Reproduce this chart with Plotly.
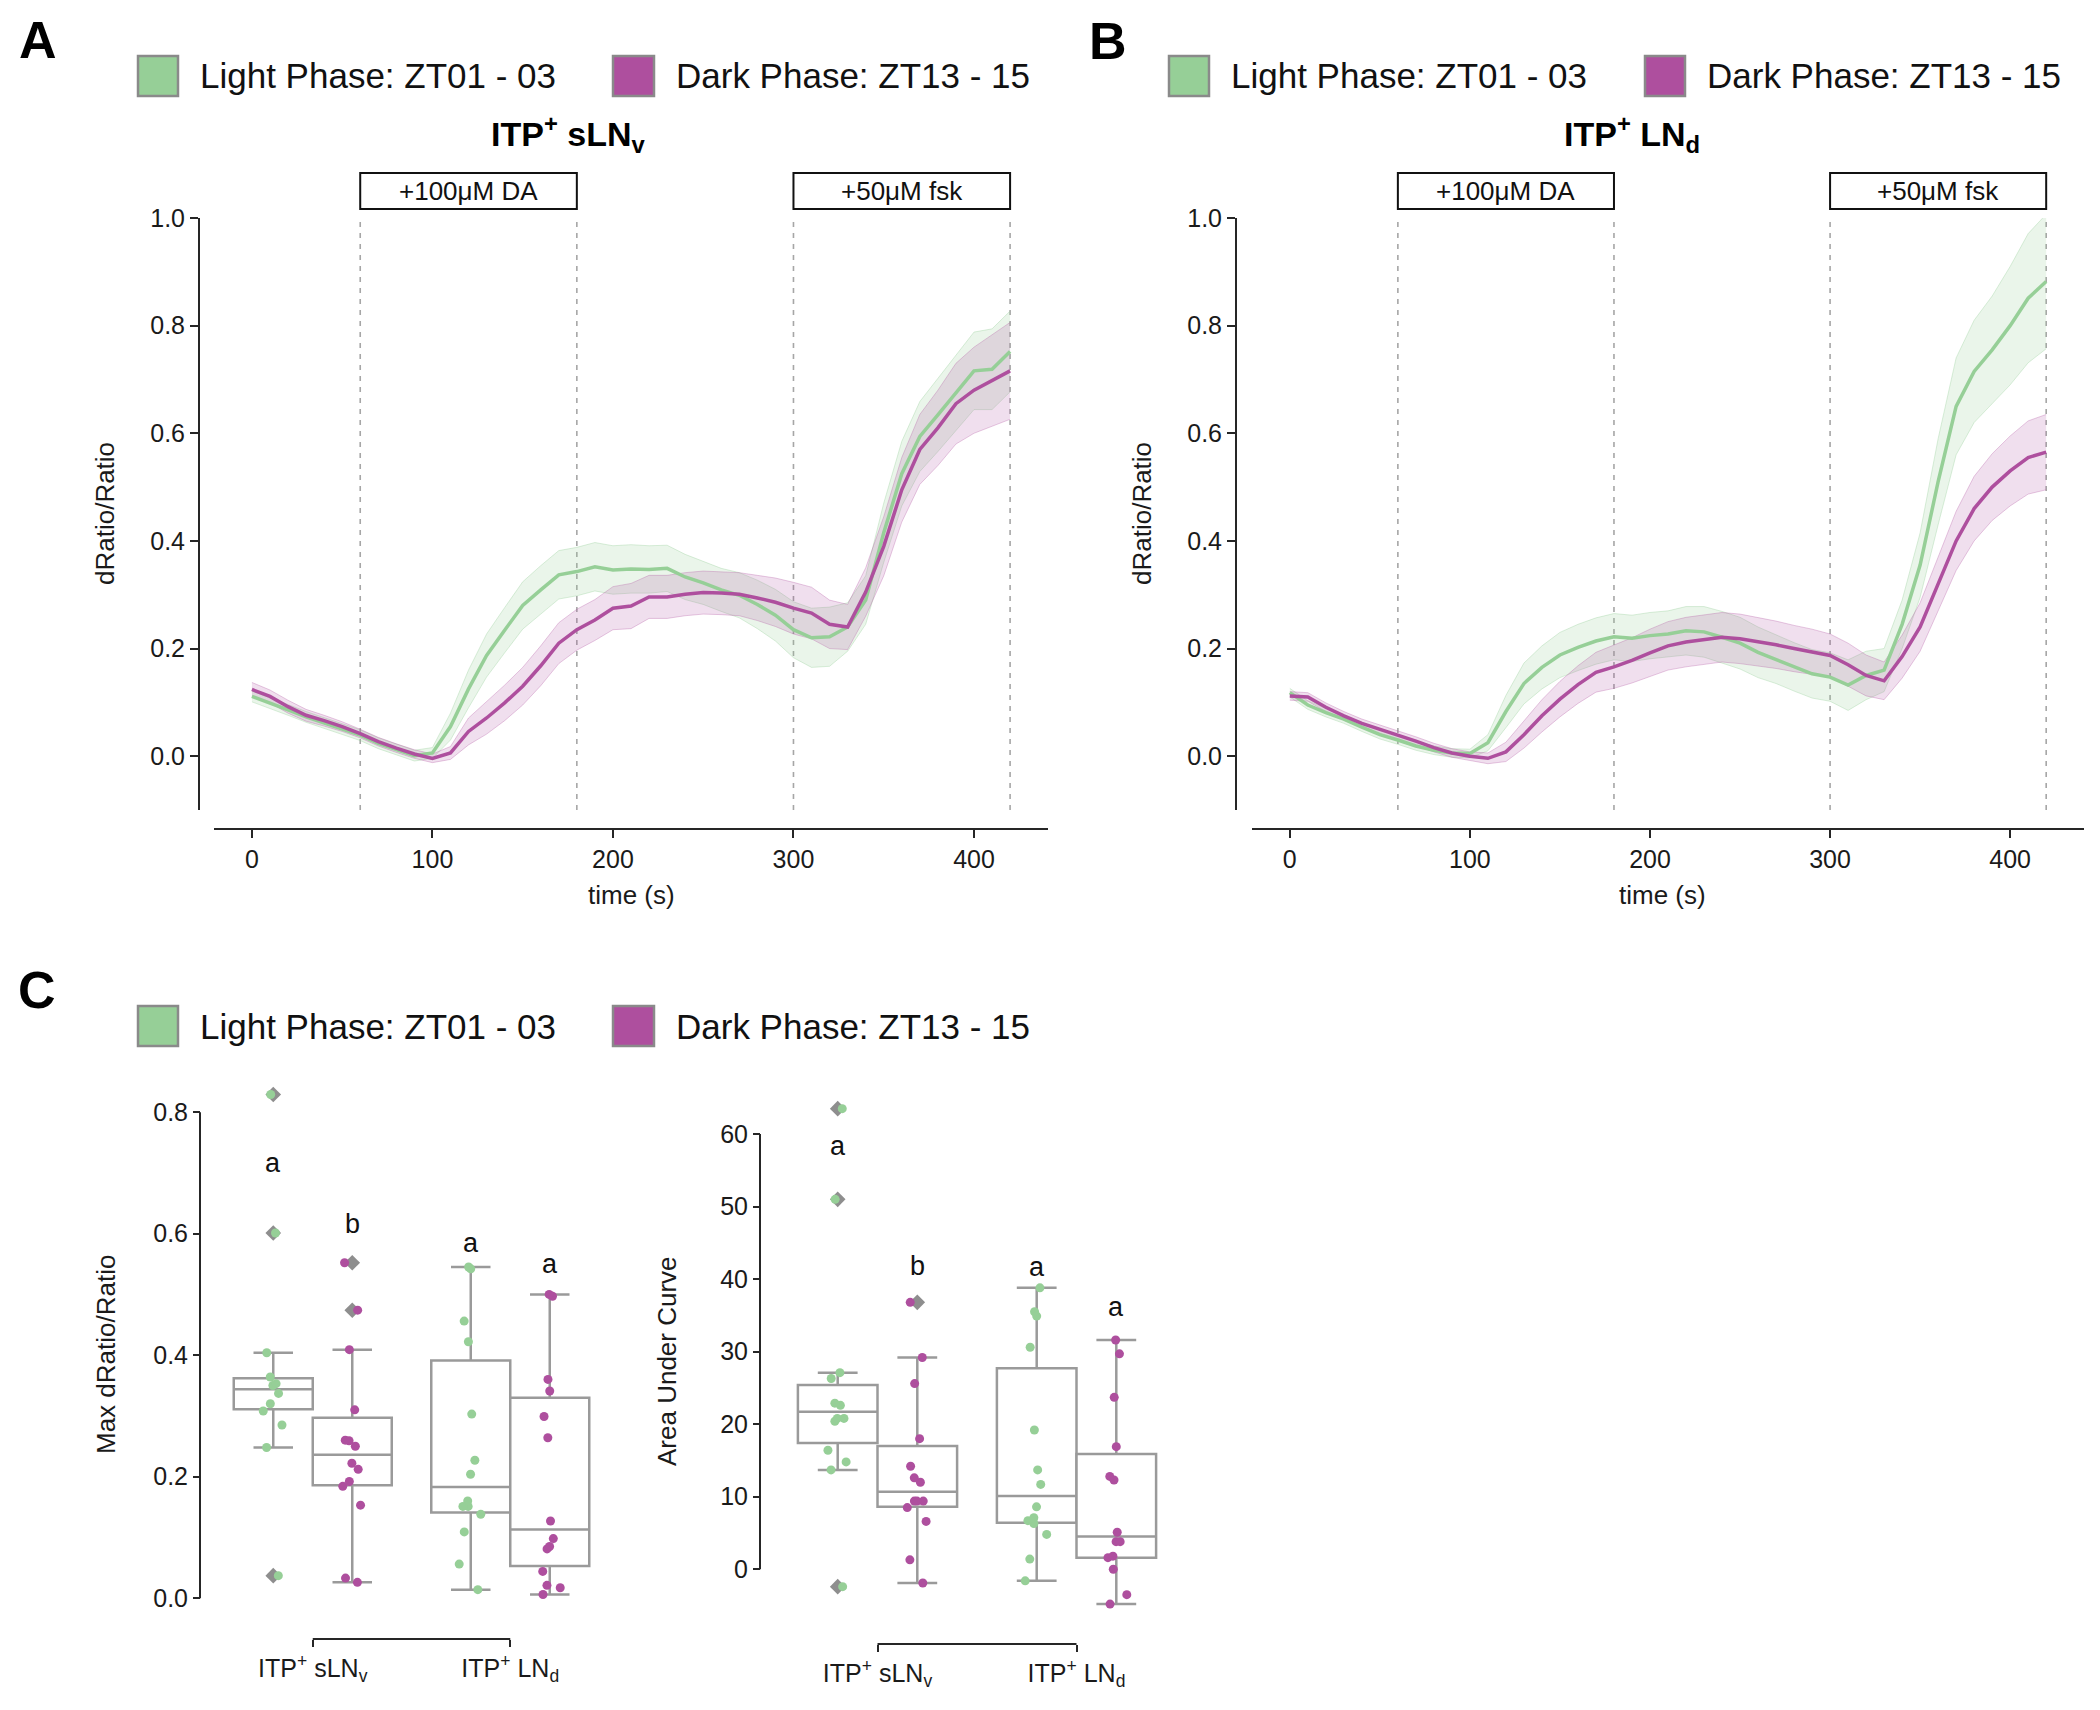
import numpy as np
import plotly.graph_objects as go

# ---------------------------------------------------------------- data
time_s = [0, 10, 20, 30, 40, 50, 60, 70, 80, 90, 100, 110, 120, 130, 140, 150, 160, 170, 180, 190,
          200, 210, 220, 230, 240, 250, 260, 270, 280, 290, 300, 310, 320, 330, 340, 350, 360, 370,
          380, 390, 400, 410, 420]

# Panel A: ITP+ sLNv  (mean and SEM of dRatio/Ratio)
sLNv_light_mean = [0.111, 0.099, 0.086, 0.073, 0.062, 0.050, 0.039, 0.024, 0.012, 0.001,
                   0.006, 0.055, 0.125, 0.187, 0.234, 0.280, 0.309, 0.337, 0.343, 0.352,
                   0.346, 0.348, 0.347, 0.349, 0.333, 0.322, 0.309, 0.299, 0.282, 0.262,
                   0.235, 0.220, 0.222, 0.240, 0.290, 0.415, 0.525, 0.594, 0.634, 0.676,
                   0.716, 0.719, 0.752]
sLNv_light_sem = [0.010, 0.010, 0.010, 0.010, 0.010, 0.010, 0.010, 0.010, 0.010, 0.010,
                  0.010, 0.025, 0.035, 0.040, 0.042, 0.044, 0.045, 0.045, 0.045, 0.045,
                  0.045, 0.045, 0.044, 0.043, 0.042, 0.040, 0.040, 0.042, 0.045, 0.048,
                  0.052, 0.055, 0.055, 0.045, 0.045, 0.055, 0.060, 0.065, 0.068, 0.070,
                  0.072, 0.075, 0.075]
sLNv_dark_mean = [0.124, 0.111, 0.092, 0.076, 0.066, 0.055, 0.042, 0.027, 0.015, 0.004,
                  -0.004, 0.006, 0.046, 0.071, 0.099, 0.130, 0.168, 0.210, 0.235, 0.253,
                  0.275, 0.279, 0.296, 0.296, 0.301, 0.304, 0.303, 0.301, 0.294, 0.286,
                  0.275, 0.266, 0.245, 0.240, 0.305, 0.390, 0.495, 0.570, 0.610, 0.655,
                  0.680, 0.698, 0.716]
sLNv_dark_sem = [0.013, 0.012, 0.012, 0.011, 0.010, 0.009, 0.008, 0.008, 0.008, 0.008,
                 0.008, 0.012, 0.025, 0.030, 0.033, 0.035, 0.037, 0.038, 0.038, 0.038,
                 0.040, 0.042, 0.040, 0.040, 0.040, 0.040, 0.040, 0.040, 0.042, 0.045,
                 0.048, 0.048, 0.045, 0.042, 0.045, 0.055, 0.060, 0.065, 0.070, 0.075,
                 0.080, 0.085, 0.090]

# Panel B: ITP+ LNd
LNd_light_mean = [0.118, 0.095, 0.081, 0.069, 0.054, 0.040, 0.030, 0.019, 0.011, 0.006,
                  0.005, 0.025, 0.083, 0.135, 0.165, 0.188, 0.202, 0.214, 0.222, 0.219,
                  0.224, 0.227, 0.233, 0.231, 0.221, 0.210, 0.193, 0.180, 0.166, 0.153,
                  0.147, 0.132, 0.150, 0.160, 0.245, 0.355, 0.510, 0.650, 0.715, 0.755,
                  0.800, 0.851, 0.882]
LNd_light_sem = [0.008, 0.008, 0.008, 0.008, 0.008, 0.008, 0.008, 0.008, 0.008, 0.008,
                 0.008, 0.015, 0.030, 0.038, 0.040, 0.042, 0.043, 0.043, 0.043, 0.043,
                 0.043, 0.043, 0.045, 0.047, 0.048, 0.048, 0.047, 0.045, 0.045, 0.045,
                 0.045, 0.047, 0.045, 0.040, 0.045, 0.060, 0.080, 0.090, 0.095, 0.100,
                 0.110, 0.120, 0.125]
LNd_dark_mean = [0.112, 0.110, 0.091, 0.075, 0.061, 0.050, 0.040, 0.028, 0.016, 0.006,
                 0.000, -0.004, 0.008, 0.040, 0.075, 0.106, 0.133, 0.156, 0.166, 0.178,
                 0.192, 0.205, 0.212, 0.217, 0.221, 0.218, 0.213, 0.207, 0.200, 0.194,
                 0.187, 0.170, 0.150, 0.140, 0.185, 0.240, 0.320, 0.400, 0.460, 0.500,
                 0.530, 0.555, 0.565]
LNd_dark_sem = [0.008, 0.008, 0.008, 0.008, 0.008, 0.008, 0.008, 0.008, 0.008, 0.008,
                0.008, 0.010, 0.018, 0.025, 0.030, 0.033, 0.035, 0.037, 0.040, 0.042,
                0.044, 0.045, 0.046, 0.046, 0.046, 0.046, 0.045, 0.044, 0.043, 0.042,
                0.040, 0.040, 0.038, 0.035, 0.040, 0.045, 0.050, 0.055, 0.060, 0.062,
                0.065, 0.068, 0.070]

stim_labels = ["+100μM DA", "+50μM fsk"]
stim_start = [60, 300]
stim_end = [180, 420]

# Panel C
cell_types = ["ITP<sup>+</sup> sLN<sub>v</sub>", "ITP<sup>+</sup> LN<sub>d</sub>"]
phase_labels = ["Light Phase: ZT01 - 03", "Dark Phase: ZT13 - 15"]

max_sLNv_light = [0.829, 0.601, 0.404, 0.364, 0.353, 0.350, 0.337, 0.320, 0.308, 0.285, 0.248, 0.037]
max_sLNv_dark = [0.552, 0.474, 0.409, 0.310, 0.260, 0.259, 0.250, 0.222, 0.212, 0.192, 0.184, 0.153, 0.033, 0.026]
max_LNd_light = [0.545, 0.542, 0.456, 0.422, 0.303, 0.227, 0.204, 0.160, 0.151, 0.151, 0.138, 0.109, 0.056, 0.014]
max_LNd_dark = [0.500, 0.497, 0.360, 0.341, 0.299, 0.264, 0.127, 0.098, 0.085, 0.081, 0.044, 0.021, 0.017, 0.006]
# box stats per cell type: [sLNv, LNd]
max_light_q1 = [0.311, 0.141]
max_light_med = [0.344, 0.183]
max_light_q3 = [0.362, 0.391]
max_light_lo = [0.248, 0.014]
max_light_hi = [0.404, 0.545]
max_dark_q1 = [0.186, 0.053]
max_dark_med = [0.236, 0.113]
max_dark_q3 = [0.297, 0.330]
max_dark_lo = [0.026, 0.006]
max_dark_hi = [0.409, 0.500]
max_light_fliers = [0.829, 0.601, 0.037]
max_dark_fliers = [0.552, 0.474]
max_letters_light = ["a", "a"]
max_letters_dark = ["b", "a"]
max_letters_light_y = [0.717, 0.584]
max_letters_dark_y = [0.616, 0.550]

auc_sLNv_light = [63.5, 51.0, 27.1, 26.3, 22.9, 22.6, 20.8, 20.8, 20.4, 16.4, 14.8, 13.7, -2.4]
auc_sLNv_dark = [36.8, 29.2, 25.6, 18.0, 14.2, 12.6, 12.0, 9.4, 9.4, 9.4, 8.5, 6.6, 1.3, -1.9]
auc_LNd_light = [38.8, 35.5, 34.9, 30.6, 19.2, 13.7, 11.7, 8.6, 7.1, 6.7, 6.3, 4.8, 1.4, -1.6]
auc_LNd_dark = [31.6, 29.7, 23.7, 16.9, 12.8, 12.3, 5.1, 3.8, 3.8, 1.8, 1.6, 0.0, -3.5, -4.8]
auc_light_q1 = [17.4, 6.4]
auc_light_med = [21.7, 10.1]
auc_light_q3 = [25.4, 27.7]
auc_light_lo = [13.7, -1.6]
auc_light_hi = [27.1, 38.8]
auc_dark_q1 = [8.6, 1.6]
auc_dark_med = [10.7, 4.5]
auc_dark_q3 = [17.0, 15.9]
auc_dark_lo = [-1.9, -4.8]
auc_dark_hi = [29.2, 31.6]
auc_light_fliers = [63.5, 51.0, -2.4]
auc_dark_fliers = [36.8]
auc_letters_light = ["a", "a"]
auc_letters_dark = ["b", "a"]
auc_letters_light_y = [58.4, 41.7]
auc_letters_dark_y = [41.8, 36.1]

# ---------------------------------------------------------------- style
W, H = 2100, 1710
PAGE_OFF = 8  # default body margin of the html page
FONT = "Liberation Sans, Arial, Helvetica, sans-serif"
GREEN = "#96cf97"
MAGENTA = "#ae4f9e"
GREEN_BAND = "rgba(150,207,151,0.20)"
MAG_BAND = "rgba(174,79,158,0.18)"
GREEN_EDGE = "rgba(150,207,151,0.35)"
MAG_EDGE = "rgba(174,79,158,0.30)"
AX = "#262626"
BOX_LINE = "#9a9a9a"
FLIER = "#8e8e8e"


def px(x):
    return (x - PAGE_OFF) / W


def py(y):
    return 1 - (y - PAGE_OFF) / H


fig = go.Figure()

# ---------------------------------------------------------------- time series
panels = [
    ("x", "y", sLNv_light_mean, sLNv_light_sem, sLNv_dark_mean, sLNv_dark_sem),
    ("x2", "y2", LNd_light_mean, LNd_light_sem, LNd_dark_mean, LNd_dark_sem),
]
for xa, ya, lm, ls, dm, ds in panels:
    lm, ls, dm, ds = map(np.array, (lm, ls, dm, ds))
    for m, s, band, edge in ((lm, ls, GREEN_BAND, GREEN_EDGE), (dm, ds, MAG_BAND, MAG_EDGE)):
        fig.add_trace(go.Scatter(x=time_s, y=m + s, mode="lines", line=dict(width=1, color=edge),
                                 xaxis=xa, yaxis=ya, showlegend=False, hoverinfo="skip"))
        fig.add_trace(go.Scatter(x=time_s, y=m - s, mode="lines", line=dict(width=1, color=edge),
                                 fill="tonexty", fillcolor=band,
                                 xaxis=xa, yaxis=ya, showlegend=False, hoverinfo="skip"))
    fig.add_trace(go.Scatter(x=time_s, y=lm, mode="lines", line=dict(width=3.5, color=GREEN),
                             xaxis=xa, yaxis=ya, showlegend=False))
    fig.add_trace(go.Scatter(x=time_s, y=dm, mode="lines", line=dict(width=3.5, color=MAGENTA),
                             xaxis=xa, yaxis=ya, showlegend=False))

# ---------------------------------------------------------------- box plots
cats = [0, 1]
c_panels = [
    ("x3", "y3",
     (max_light_q1, max_light_med, max_light_q3, max_light_lo, max_light_hi),
     (max_dark_q1, max_dark_med, max_dark_q3, max_dark_lo, max_dark_hi),
     (max_sLNv_light, max_LNd_light), (max_sLNv_dark, max_LNd_dark),
     max_light_fliers, max_dark_fliers),
    ("x4", "y4",
     (auc_light_q1, auc_light_med, auc_light_q3, auc_light_lo, auc_light_hi),
     (auc_dark_q1, auc_dark_med, auc_dark_q3, auc_dark_lo, auc_dark_hi),
     (auc_sLNv_light, auc_LNd_light), (auc_sLNv_dark, auc_LNd_dark),
     auc_light_fliers, auc_dark_fliers),
]
for xa, ya, st_l, st_d, pts_l, pts_d, fl_l, fl_d in c_panels:
    for grp, st, pts, fl, col in (("L", st_l, pts_l, fl_l, GREEN), ("D", st_d, pts_d, fl_d, MAGENTA)):
        q1, med, q3, lo, hi = st
        fig.add_trace(go.Box(x=cats, q1=q1, median=med, q3=q3, lowerfence=lo, upperfence=hi,
                             orientation="v", offsetgroup=grp, boxpoints=False,
                             fillcolor="white", line=dict(color=BOX_LINE, width=2.5),
                             whiskerwidth=0.5, xaxis=xa, yaxis=ya, showlegend=False,
                             hoverinfo="skip"))
        fig.add_trace(go.Box(x=[0] * len(fl), y=fl, orientation="v", offsetgroup=grp,
                             boxpoints="all", jitter=0, pointpos=0,
                             fillcolor="rgba(0,0,0,0)", line=dict(color="rgba(0,0,0,0)", width=0),
                             marker=dict(color=FLIER, symbol="diamond", size=12),
                             xaxis=xa, yaxis=ya, showlegend=False, hoverinfo="skip"))
        xs = [0] * len(pts[0]) + [1] * len(pts[1])
        ys = list(pts[0]) + list(pts[1])
        fig.add_trace(go.Box(x=xs, y=ys, orientation="v", offsetgroup=grp,
                             boxpoints="all", jitter=0.3, pointpos=0,
                             fillcolor="rgba(0,0,0,0)", line=dict(color="rgba(0,0,0,0)", width=0),
                             marker=dict(color=col, size=9),
                             xaxis=xa, yaxis=ya, showlegend=False, hoverinfo="skip"))

# ---------------------------------------------------------------- axes
tick_font = dict(family=FONT, size=25, color="#1a1a1a")
ts_x = dict(range=[-21, 441], anchor="free", automargin=False, showline=True, linecolor=AX,
            linewidth=2, ticks="outside", ticklen=8, tickwidth=2, tickcolor=AX,
            tickvals=[0, 100, 200, 300, 400], tickfont=tick_font, showgrid=False, zeroline=False)
ts_y = dict(range=[-0.1, 1.0], anchor="free", automargin=False, showline=True, linecolor=AX,
            linewidth=2, ticks="outside", ticklen=8, tickwidth=2, tickcolor=AX,
            tickvals=[0, 0.2, 0.4, 0.6, 0.8, 1.0], tickformat=".1f",
            tickfont=tick_font, showgrid=False, zeroline=False)
box_font = dict(family=FONT, size=25, color="#1a1a1a")
c_x = dict(range=[-0.5, 1.5], anchor="free", automargin=False, showline=False, ticks="outside",
           ticklen=7, tickwidth=2, tickcolor=AX, tickvals=cats, ticktext=cell_types,
           tickfont=box_font, showgrid=False, zeroline=False)
c_y = dict(anchor="free", automargin=False, showline=False, ticks="outside", ticklen=7,
           tickwidth=2, tickcolor=AX, tickfont=box_font, showgrid=False, zeroline=False)

fig.update_layout(
    xaxis=dict(ts_x, domain=[px(214), px(1048)], position=py(829)),
    yaxis=dict(ts_y, domain=[py(810), py(218)], position=px(199)),
    xaxis2=dict(ts_x, domain=[px(1252), px(2084)], position=py(829)),
    yaxis2=dict(ts_y, domain=[py(810), py(218)], position=px(1236)),
    xaxis3=dict(c_x, domain=[px(214), px(609)], position=py(1639)),
    yaxis3=dict(c_y, domain=[py(1620), py(1069)], position=px(200), range=[-0.036, 0.871],
                tickvals=[0, 0.2, 0.4, 0.6, 0.8], tickformat=".1f"),
    xaxis4=dict(c_x, domain=[px(778), px(1176)], position=py(1644)),
    yaxis4=dict(c_y, domain=[py(1628), py(1084)], position=px(760), range=[-8.1, 66.9],
                tickvals=[0, 10, 20, 30, 40, 50, 60]),
)

shapes = []
annotations = []

# stimulus boxes + dashed lines
for xa in ("x", "x2"):
    for lab, s0, s1 in zip(stim_labels, stim_start, stim_end):
        shapes.append(dict(type="rect", xref=xa, yref="paper", x0=s0, x1=s1, y0=py(209), y1=py(173),
                           line=dict(color="#111", width=2), fillcolor="white"))
        annotations.append(dict(xref=xa, yref="paper", x=(s0 + s1) / 2, y=py(191), text=lab,
                                showarrow=False, xanchor="center", yanchor="middle",
                                font=dict(family=FONT, size=26, color="#111")))
        for xv in (s0, s1):
            shapes.append(dict(type="line", xref=xa, yref=xa.replace("x", "y") + " domain",
                               x0=xv, x1=xv, y0=0, y1=1, layer="below",
                               line=dict(color="#a6a6a6", width=1.6, dash="5px,6px")))

# trimmed spines for panel C
shapes += [
    dict(type="line", xref="paper", yref="y3", x0=px(200), x1=px(200), y0=0, y1=0.8,
         line=dict(color=AX, width=2)),
    dict(type="line", xref="x3", yref="paper", x0=0, x1=1, y0=py(1639), y1=py(1639),
         line=dict(color=AX, width=2)),
    dict(type="line", xref="paper", yref="y4", x0=px(760), x1=px(760), y0=0, y1=60,
         line=dict(color=AX, width=2)),
    dict(type="line", xref="x4", yref="paper", x0=0, x1=1, y0=py(1644), y1=py(1644),
         line=dict(color=AX, width=2)),
]

# legends (drawn as swatches + text)
legend_rows = [
    (76, [(138, 178, 198, GREEN, phase_labels[0]), (613, 654, 674, MAGENTA, phase_labels[1])]),
    (76, [(1169, 1209, 1229, GREEN, phase_labels[0]), (1645, 1685, 1705, MAGENTA, phase_labels[1])]),
    (1026, [(138, 178, 198, GREEN, phase_labels[0]), (613, 654, 674, MAGENTA, phase_labels[1])]),
]
for yc, items in legend_rows:
    for x0, x1, xt, col, lab in items:
        shapes.append(dict(type="rect", xref="paper", yref="paper", x0=px(x0), x1=px(x1),
                           y0=py(yc + 20), y1=py(yc - 20), fillcolor=col,
                           line=dict(color="#8a8a8a", width=2.5)))
        annotations.append(dict(xref="paper", yref="paper", x=px(xt), y=py(yc), text=lab,
                                showarrow=False, xanchor="left", yanchor="middle",
                                font=dict(family=FONT, size=35, color="#111")))

# panel letters
for lab, xc, yc in (("A", 38, 40), ("B", 1108, 41), ("C", 37, 990)):
    annotations.append(dict(xref="paper", yref="paper", x=px(xc), y=py(yc), text="<b>%s</b>" % lab,
                            showarrow=False, xanchor="center", yanchor="middle",
                            font=dict(family=FONT, size=52, color="#000")))

# panel titles
for lab, xc in (("ITP<sup>+</sup> sLN<sub>v</sub>", 568), ("ITP<sup>+</sup> LN<sub>d</sub>", 1632)):
    annotations.append(dict(xref="paper", yref="paper", x=px(xc), y=py(134), text="<b>%s</b>" % lab,
                            showarrow=False, xanchor="center", yanchor="middle",
                            font=dict(family=FONT, size=34, color="#000")))

# axis titles
title_font = dict(family=FONT, size=26, color="#1a1a1a")
for txt, xc, yc, ang in (("dRatio/Ratio", 105, 514, -90), ("dRatio/Ratio", 1142, 514, -90),
                         ("time (s)", 631, 895, 0), ("time (s)", 1662, 895, 0),
                         ("Max dRatio/Ratio", 106, 1355, -90), ("Area Under Curve", 667, 1361, -90)):
    annotations.append(dict(xref="paper", yref="paper", x=px(xc), y=py(yc), text=txt,
                            showarrow=False, xanchor="center", yanchor="middle", textangle=ang,
                            font=title_font))

# significance letters
letter_font = dict(family=FONT, size=27, color="#111")
for xa, ya, ll, ly, dl, dy in (("x3", "y3", max_letters_light, max_letters_light_y,
                                 max_letters_dark, max_letters_dark_y),
                                ("x4", "y4", auc_letters_light, auc_letters_light_y,
                                 auc_letters_dark, auc_letters_dark_y)):
    for i, c in enumerate(cats):
        annotations.append(dict(xref=xa, yref=ya, x=c - 0.2, y=ly[i], text=ll[i], showarrow=False,
                                xanchor="center", yanchor="middle", font=letter_font))
        annotations.append(dict(xref=xa, yref=ya, x=c + 0.2, y=dy[i], text=dl[i], showarrow=False,
                                xanchor="center", yanchor="middle", font=letter_font))

fig.update_layout(
    width=W, height=H, autosize=False,
    margin=dict(l=0, r=0, t=0, b=0, autoexpand=False),
    paper_bgcolor="white", plot_bgcolor="white",
    boxmode="group", boxgap=0.2, boxgroupgap=0,
    font=dict(family=FONT, color="#1a1a1a"),
    shapes=shapes, annotations=annotations,
    showlegend=False,
)

fig.write_html("out.html", config={"displayModeBar": False})
